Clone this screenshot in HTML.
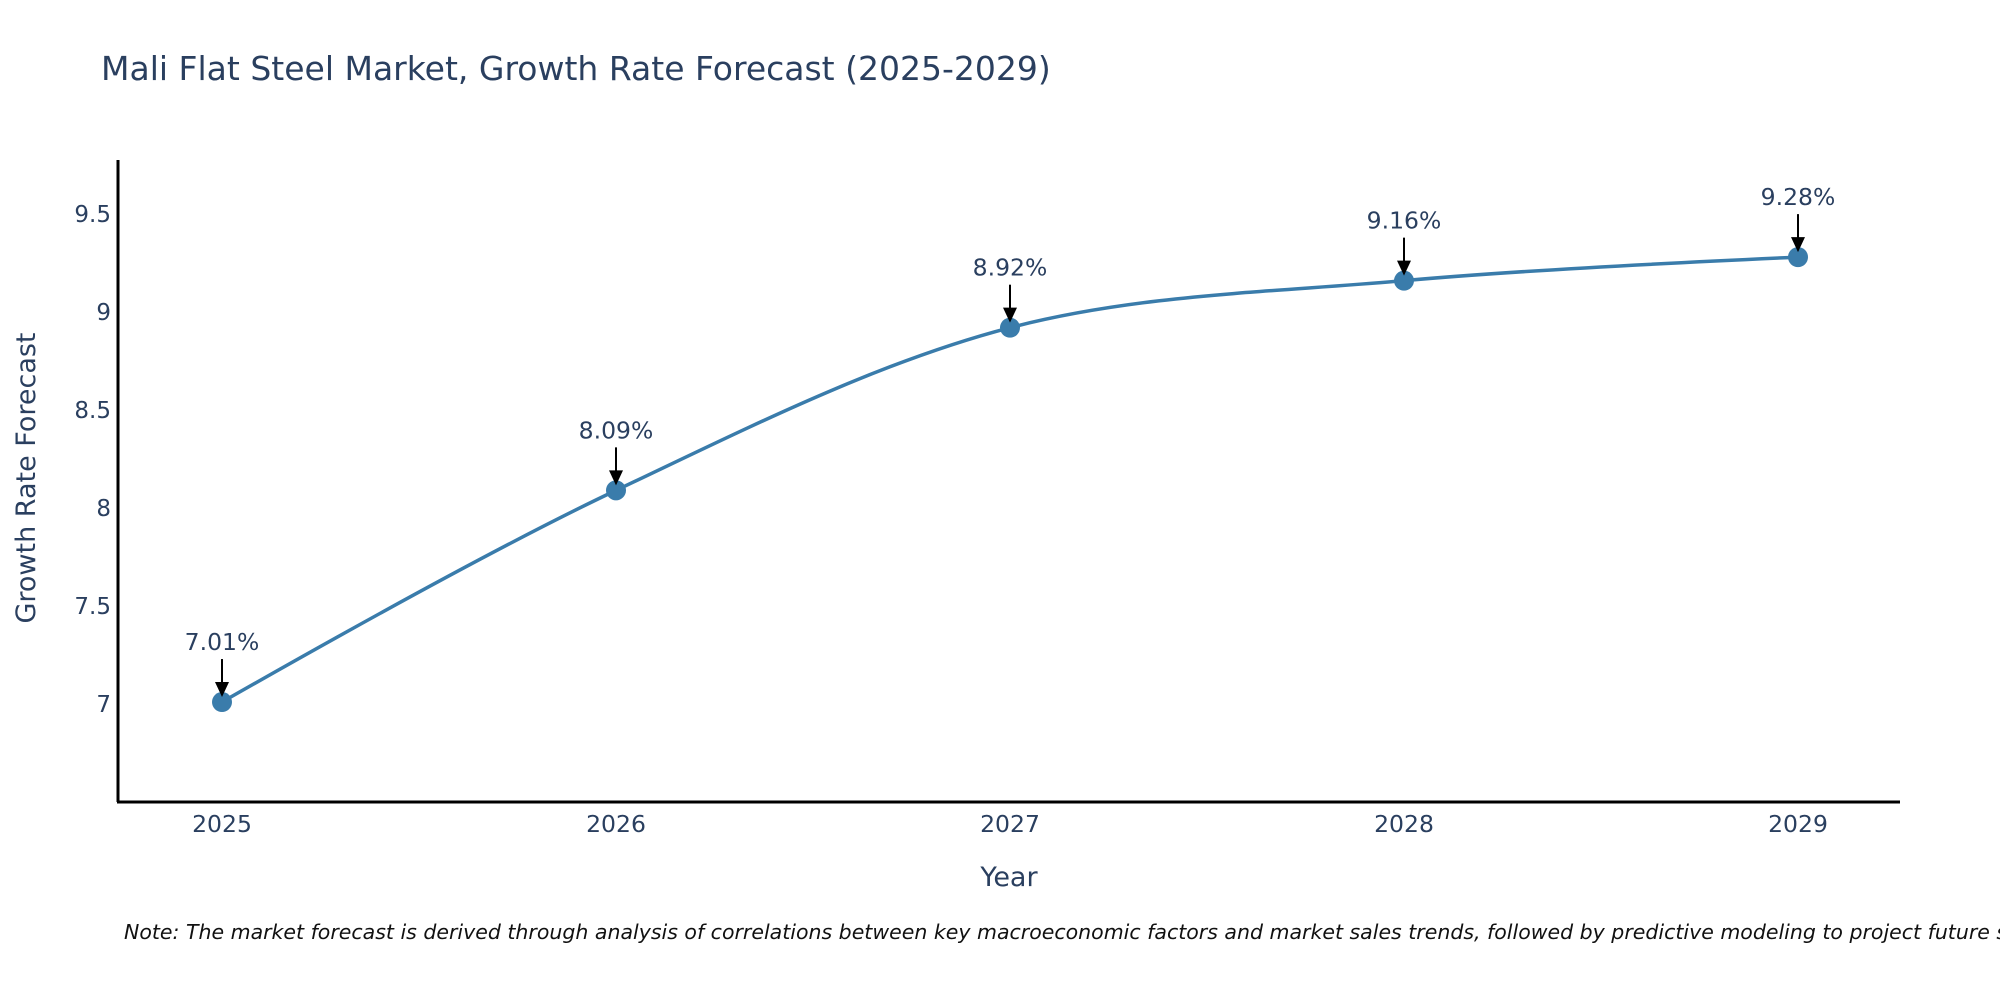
<!DOCTYPE html>
<html><head><meta charset="utf-8"><style>
html,body{margin:0;padding:0;background:#fff;}
svg{display:block;font-family:"DejaVu Sans","Liberation Sans",sans-serif;}
</style></head><body>
<svg id="chart" width="2000" height="1000" viewBox="0 0 2000 1000" xmlns="http://www.w3.org/2000/svg">
<rect width="2000" height="1000" fill="#fff"/>
<text x="101" y="80" font-size="33" fill="#2a3f5f">Mali Flat Steel Market, Growth Rate Forecast (2025-2029)</text>
<g id="yticks"></g>
<g id="xticks"></g>
<path id="line" fill="none" stroke="#3a7cab" stroke-width="3.5"/>
<g id="points"></g>
<g id="annots"></g>
<line x1="118" y1="160" x2="118" y2="802" stroke="#000" stroke-width="3"/>
<line x1="117" y1="802" x2="1900" y2="802" stroke="#000" stroke-width="3"/>
<text x="1009" y="886" font-size="27" fill="#2a3f5f" text-anchor="middle">Year</text>
<text transform="translate(35,478) rotate(-90)" font-size="27" fill="#2a3f5f" text-anchor="middle">Growth Rate Forecast</text>
<text x="124" y="939" font-size="20.5" font-style="italic" fill="#111">Note: The market forecast is derived through analysis of correlations between key macroeconomic factors and market sales trends, followed by predictive modeling to project future sales.</text>
</svg>
<script>
const years = [2025, 2026, 2027, 2028, 2029];
const rates = [7.01, 8.09, 8.92, 9.16, 9.28];
const labels = ["7.01%", "8.09%", "8.92%", "9.16%", "9.28%"];
const yTicks = [7, 7.5, 8, 8.5, 9, 9.5];
const yTickLabels = ["7", "7.5", "8", "8.5", "9", "9.5"];

const NS = "http://www.w3.org/2000/svg";
const X0 = 222, X1 = 1798;
function xs(v){ return X0 + (v - years[0]) / (years[years.length-1] - years[0]) * (X1 - X0); }
function ys(v){ return 704 - (v - 7) * 196; }
function mk(tag, attrs, parent){ const e = document.createElementNS(NS, tag); for (const k in attrs) e.setAttribute(k, attrs[k]); parent.appendChild(e); return e; }

const yt = document.getElementById("yticks");
yTicks.forEach((v, i) => {
  const t = mk("text", {x: 111, y: ys(v) + 8, "font-size": 23, fill: "#2a3f5f", "text-anchor": "end"}, yt);
  
  
  t.textContent = yTickLabels[i];
});
const xt = document.getElementById("xticks");
years.forEach(v => {
  const t = mk("text", {x: xs(v), y: 832, "font-size": 23.5, fill: "#2a3f5f", "text-anchor": "middle"}, xt);
  
  
  t.textContent = String(v);
});

const pts = years.map((y, i) => [xs(y), ys(rates[i])]);
function tangent(p, c, n, s){
  const d1x = p[0]-c[0], d1y = p[1]-c[1], d2x = n[0]-c[0], d2y = n[1]-c[1];
  const d1a = Math.pow(d1x*d1x + d1y*d1y, 0.25), d2a = Math.pow(d2x*d2x + d2y*d2y, 0.25);
  const nx = (d2a*d2a*d1x - d1a*d1a*d2x)*s, ny = (d2a*d2a*d1y - d1a*d1a*d2y)*s;
  const den1 = 3*d2a*(d1a+d2a), den2 = 3*d1a*(d1a+d2a);
  return [[c[0]+nx/den1, c[1]+ny/den1], [c[0]-nx/den2, c[1]-ny/den2]];
}
const tg = [];
for (let i = 1; i < pts.length-1; i++) tg.push(tangent(pts[i-1], pts[i], pts[i+1], 1));
let d = "M" + pts[0] + "Q" + tg[0][0] + " " + pts[1];
for (let i = 2; i < pts.length-1; i++) d += "C" + tg[i-2][1] + " " + tg[i-1][0] + " " + pts[i];
d += "Q" + tg[tg.length-1][1] + " " + pts[pts.length-1];
document.getElementById("line").setAttribute("d", d);

const pg = document.getElementById("points");
const ag = document.getElementById("annots");
pts.forEach((p, i) => {
  const c = mk("circle", {cx: p[0], cy: p[1], r: 10, fill: "#3a7cab"}, pg);
  
  
  const l = mk("line", {x1: p[0], y1: p[1]-43, x2: p[0], y2: p[1]-18, stroke: "#000", "stroke-width": 2}, ag);
  
  
  const h = mk("polygon", {points: (p[0]-7)+","+(p[1]-20)+" "+(p[0]+7)+","+(p[1]-20)+" "+p[0]+","+(p[1]-5), fill: "#000"}, ag);
  
  
  const t = mk("text", {x: p[0], y: p[1]-52, "font-size": 23.5, fill: "#2a3f5f", "text-anchor": "middle"}, ag);
  
  
  t.textContent = labels[i];
});
</script>
</body></html>
